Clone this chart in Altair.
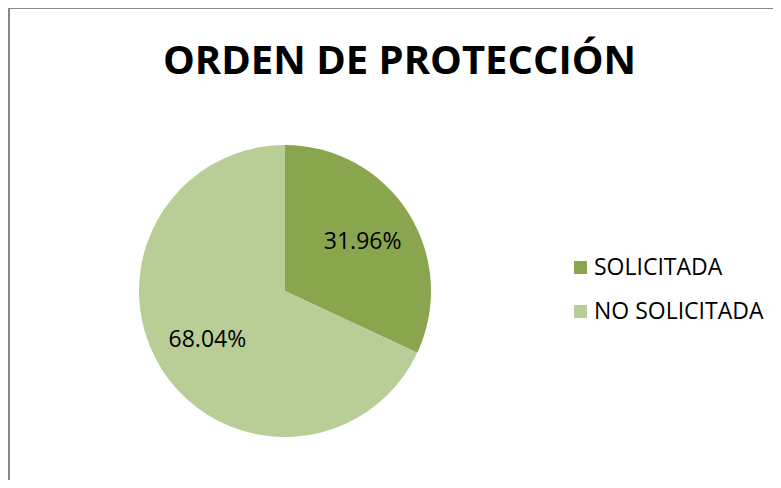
import altair as alt
import pandas as pd

categories = ["SOLICITADA", "NO SOLICITADA"]
values = [31.96, 68.04]
labels = ["31.96%", "68.04%"]
colors = ["#89A54E", "#B9CD96"]

df = pd.DataFrame({"cat": categories, "val": values, "label": labels, "ord": [0, 1]})

W, H = 765, 472
cx, cy, r = 277, 283, 146

base = alt.Chart(df).encode(
    theta=alt.Theta("val:Q", stack=True),
    order=alt.Order("ord:Q"),
)

pie = base.mark_arc(radius=r, x=cx, y=cy).encode(
    color=alt.Color(
        "cat:N",
        scale=alt.Scale(domain=categories, range=colors),
        sort=categories,
        legend=alt.Legend(
            title=None,
            orient="none",
            legendX=561,
            legendY=248,
            symbolType="square",
            symbolSize=169,
            symbolStrokeWidth=0,
            labelFont="Open Sans",
            labelFontSize=23,
            labelColor="#000000",
            labelOffset=2,
            labelLimit=400,
            rowPadding=20,
        ),
    )
)

text = base.mark_text(
    radius=92, x=cx, y=cy, font="Open Sans", fontSize=23, color="#000000"
).encode(text="label:N")

frame_df = pd.DataFrame({"frame": [0]})
left_edge = alt.Chart(frame_df).mark_rule(color="#868686", strokeWidth=2).encode(
    x=alt.value(1), y=alt.value(0), y2=alt.value(H)
)
top_edge = alt.Chart(frame_df).mark_rule(color="#868686", strokeWidth=2).encode(
    x=alt.value(0), x2=alt.value(W), y=alt.value(0)
)

chart = (
    alt.layer(pie, text, left_edge, top_edge)
    .properties(
        width=W,
        height=H,
        padding=0,
        autosize=alt.AutoSizeParams(type="none"),
        title=alt.TitleParams(
            "ORDEN DE PROTECCIÓN",
            font="Open Sans",
            fontSize=40,
            fontWeight="bold",
            color="#000000",
            anchor="middle",
            frame="group",
            baseline="alphabetic",
            offset=-107,
            dx=9,
        ),
    )
    .configure_view(stroke=None)
    .configure(background="white")
)

chart.save("out.html", embed_options={"renderer": "svg", "actions": False})
